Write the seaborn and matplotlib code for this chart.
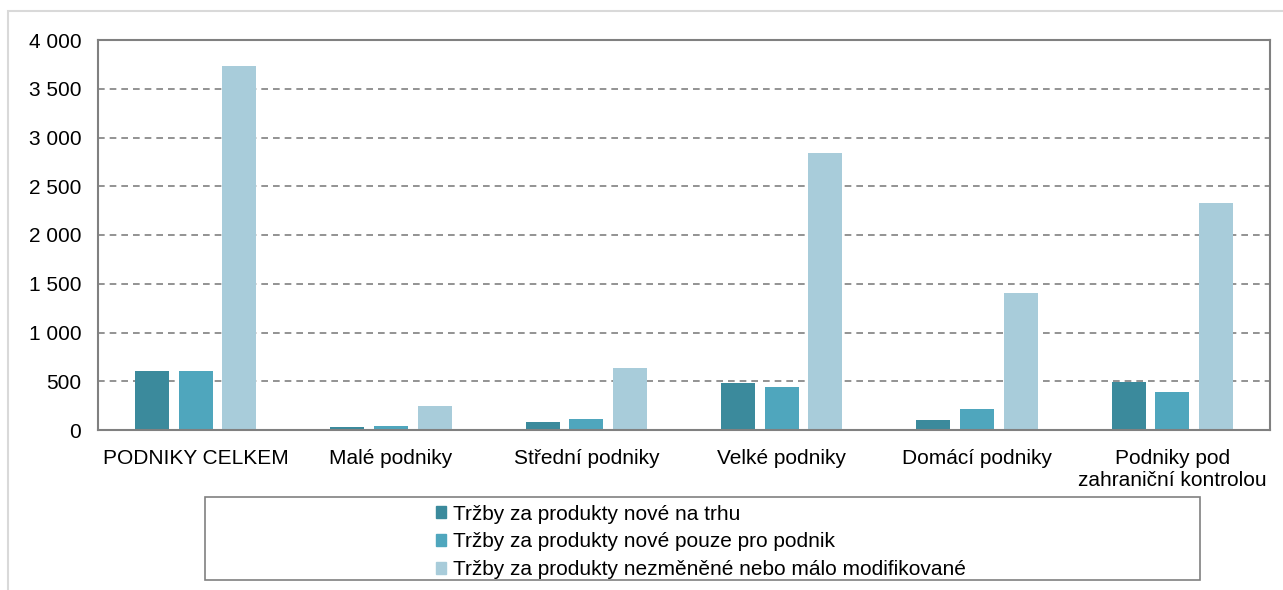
import matplotlib
matplotlib.use("Agg")
import matplotlib.pyplot as plt
import matplotlib.patches as mpatches
import matplotlib.ticker as mticker
import seaborn as sns
import pandas as pd

categories = ["PODNIKY CELKEM", "Malé podniky", "Střední podniky", "Velké podniky",
              "Domácí podniky", "Podniky pod\nzahraniční kontrolou"]
series_names = ["Tržby za produkty nové na trhu",
                "Tržby za produkty nové pouze pro podnik",
                "Tržby za produkty nezměněné nebo málo modifikované"]
nove_na_trhu = [605, 30, 80, 482, 103, 496]
nove_pro_podnik = [610, 45, 113, 441, 215, 390]
nezmenene = [3735, 246, 640, 2840, 1405, 2328]
colors = ["#3B8A9C", "#4FA6BD", "#A8CCDA"]

rows = []
for s, vals in zip(series_names, [nove_na_trhu, nove_pro_podnik, nezmenene]):
    for c, v in zip(categories, vals):
        rows.append({"cat": c, "series": s, "value": v})
df = pd.DataFrame(rows)

sns.set_theme(style="white")
plt.rcParams["font.family"] = ["Liberation Sans", "DejaVu Sans"]
plt.rcParams["text.color"] = "black"

fig = plt.figure(figsize=(12.83, 5.90), dpi=100)
ax = fig.add_axes([98/1283, 1-430/590, (1270-98)/1283, (430-40)/590])

sns.barplot(data=df, x="cat", y="value", hue="series", palette=colors,
            order=categories, hue_order=series_names, width=0.67, gap=0.22,
            ax=ax, legend=False, saturation=1, edgecolor="none")

ax.set_ylim(0, 4000)
ax.set_xlim(-0.5, len(categories) - 0.5)
ax.yaxis.set_major_locator(mticker.MultipleLocator(500))
ax.yaxis.set_major_formatter(mticker.FuncFormatter(lambda v, p: f"{int(v):,}".replace(",", " ")))
for yv in range(500, 4000, 500):
    ax.axhline(yv, color="#808080", lw=1.2, ls=(0, (4, 3)), zorder=0)
ax.set_axisbelow(True)
ax.set_xlabel("")
ax.set_ylabel("")
for sp in ax.spines.values():
    sp.set_color("#808080")
    sp.set_linewidth(1.5)
ax.tick_params(axis="both", labelsize=15, colors="black", length=0)
ax.tick_params(axis="x", pad=14)
ax.tick_params(axis="y", pad=12)
for lbl in ax.get_xticklabels():
    lbl.set_linespacing(1.15)

# outer chart border
fig.patches.append(mpatches.Rectangle((8/1283, -0.01), 1.1, 1-11/590 + 0.01,
                                      transform=fig.transFigure, fill=False,
                                      edgecolor="#d9d9d9", lw=1.5))
# legend box
fig.patches.append(mpatches.Rectangle((205/1283, 1-580/590), (1200-205)/1283, (580-497)/590,
                                      transform=fig.transFigure, fill=False,
                                      edgecolor="#808080", lw=1.2))
handles = [mpatches.Patch(color=c, label=s) for c, s in zip(colors, series_names)]
fig.legend(handles=handles, loc="upper left", bbox_to_anchor=(421/1283, 1-490/590),
           frameon=False, fontsize=15, handlelength=0.5, handleheight=0.5,
           handletextpad=0.35, labelspacing=0.42, borderpad=0.2, labelcolor="black")

fig.savefig("out.png", dpi=100)
